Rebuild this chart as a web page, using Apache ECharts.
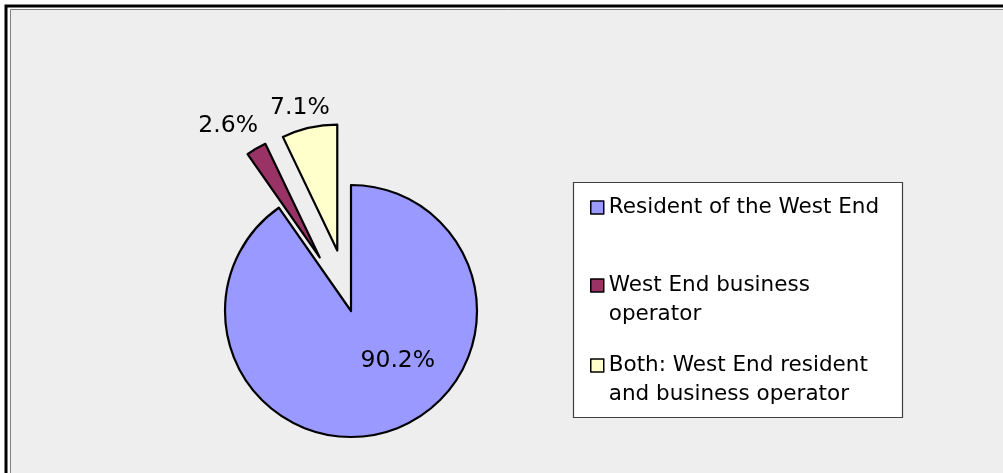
<!DOCTYPE html>
<html>
<head>
<meta charset="utf-8">
<script src="https://cdn.jsdelivr.net/npm/echarts@6/dist/echarts.min.js"></script>
<style>
  html, body { margin: 0; padding: 0; background: #fff; }
  #main { width: 1003px; height: 473px; }
</style>
</head>
<body>
<div id="main"></div>
<script>
// who answered the survey (percent)
var categories = ['Resident of the West End', 'West End business operator', 'Both: West End resident and business operator'];
var values = [90.2, 2.6, 7.1];
var colors = ['#9999FF', '#993366', '#FFFFCC'];
var legendText = ['Resident of the West End', 'West End business\noperator', 'Both: West End resident\nand business operator'];

var FONT = 'DejaVu Sans';
var chart = echarts.init(document.getElementById('main'), null, { renderer: 'canvas' });

// per-slice label line lengths (controls where the outside labels sit)
var lineLen = [[0, 0], [26, 10], [20, 0]];

var pieData = categories.map(function (name, i) {
  return {
    name: name,
    value: values[i],
    selected: i > 0,
    itemStyle: { color: colors[i] },
    label: { position: i === 0 ? 'inside' : 'outside' },
    labelLine: { show: false, length: lineLen[i][0], length2: lineLen[i][1] }
  };
});

var legendTops = [193, 242, 322];
var legends = categories.map(function (name, i) {
  return {
    data: [name],
    orient: 'vertical',
    left: 590,
    top: legendTops[i],
    padding: 0,
    itemWidth: 13,
    itemHeight: 13,
    itemGap: 5,
    icon: 'rect',
    selectedMode: false,
    itemStyle: { borderColor: '#000', borderWidth: 1.5 },
    textStyle: { fontFamily: FONT, fontSize: 21.5, color: '#000', lineHeight: 29 },
    formatter: function () {
      var t = legendText[i];
      return t.indexOf('\n') >= 0 ? '\n' + t : t;
    }
  };
});

var option = {
  backgroundColor: '#fff',
  animation: false,
  graphic: [
    { type: 'rect', z: -10, shape: { x: 6, y: 6, width: 1020, height: 500 }, style: { fill: 'none', stroke: '#000', lineWidth: 3 }, silent: true },
    { type: 'rect', z: -9, shape: { x: 10.5, y: 9.5, width: 1020, height: 500 }, style: { fill: '#EEEEEE', stroke: '#808080', lineWidth: 1 }, silent: true },
    { type: 'rect', z: -8, shape: { x: 573.5, y: 182.5, width: 329, height: 235 }, style: { fill: '#fff', stroke: '#404040', lineWidth: 1.2 }, silent: true }
  ],
  legend: legends,
  series: [{
    type: 'pie',
    center: [351, 311],
    radius: 126,
    startAngle: 90,
    clockwise: true,
    selectedMode: 'multiple',
    selectedOffset: 62,
    avoidLabelOverlap: false,
    emphasis: { disabled: true },
    itemStyle: { borderColor: '#000', borderWidth: 2.2 },
    label: {
      show: true,
      formatter: '{c}%',
      fontFamily: FONT,
      fontSize: 23.5,
      color: '#000'
    },
    labelLayout: function (params) {
      if (params.dataIndex === 0) {
        return { dx: 27, dy: -13 };
      }
      return { align: 'center' };
    },
    data: pieData
  }]
};

chart.setOption(option);
</script>
</body>
</html>
